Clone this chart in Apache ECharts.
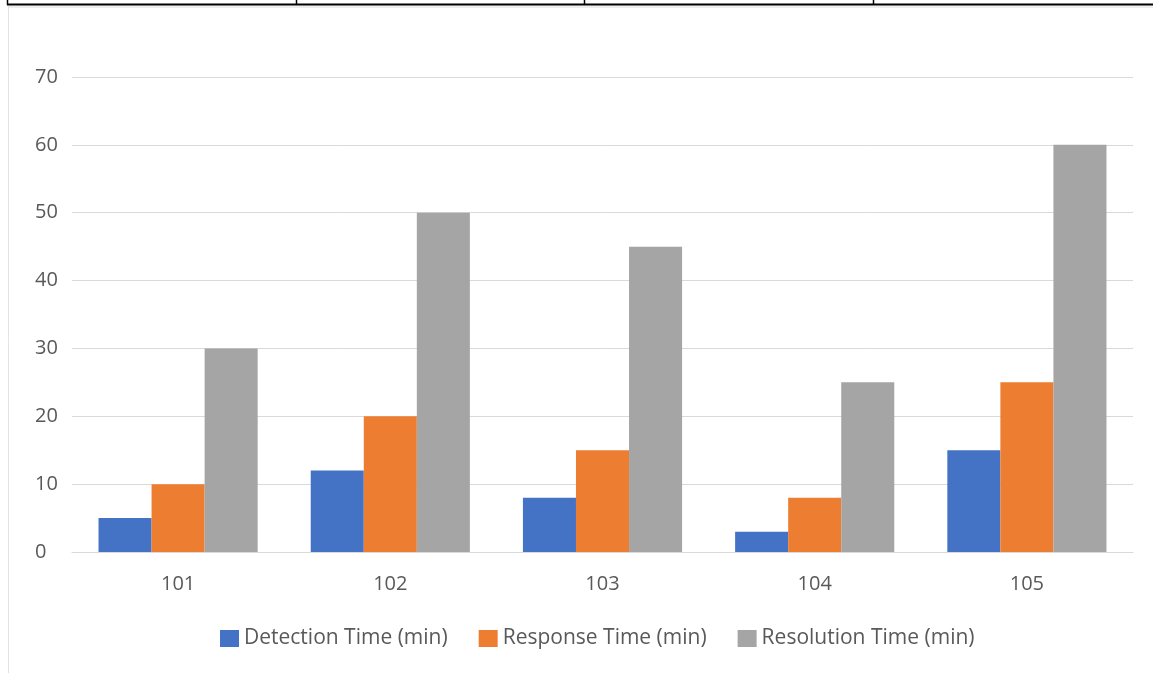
<!DOCTYPE html>
<html>
<head>
<meta charset="utf-8">
<script src="https://cdn.jsdelivr.net/npm/echarts@6/dist/echarts.min.js"></script>
<style>
  html, body { margin: 0; padding: 0; background: #fff; }
  #chart { width: 1153px; height: 673px; }
</style>
</head>
<body>
<div id="chart"></div>
<script>
// incident ids on x axis
var incidents = ['101', '102', '103', '104', '105'];
var detection = [5, 12, 8, 3, 15];
var response = [10, 20, 15, 8, 25];
var resolution = [30, 50, 45, 25, 60];
var seriesNames = ['Detection Time (min)', 'Response Time (min)', 'Resolution Time (min)'];
var colors = ['#4472C4', '#ED7D31', '#A5A5A5'];

var chart = echarts.init(document.getElementById('chart'));
var txt = '#595959';
var font = '"Open Sans", "Noto Sans", sans-serif';

function bar(name, data) {
  return { name: name, type: 'bar', data: data, barGap: 0, barCategoryGap: '25%' };
}

chart.setOption({
  animation: false,
  color: colors,
  textStyle: { fontFamily: font },
  grid: { left: 72, right: 20, top: 77, bottom: 121, containLabel: false },
  legend: {
    top: 623,
    left: 215,
    itemWidth: 19,
    itemHeight: 17,
    itemGap: 31,
    icon: 'rect',
    textStyle: { color: txt, fontSize: 21, fontFamily: font },
    data: seriesNames
  },
  xAxis: {
    type: 'category',
    data: incidents,
    axisTick: { show: false },
    axisLine: { lineStyle: { color: '#d9d9d9' } },
    axisLabel: { color: txt, fontSize: 20, margin: 22 }
  },
  yAxis: {
    type: 'value',
    min: 0,
    max: 70,
    interval: 10,
    axisLine: { show: false },
    axisTick: { show: false },
    axisLabel: { color: txt, fontSize: 20, margin: 37, align: 'left' },
    splitLine: { lineStyle: { color: '#d9d9d9' } }
  },
  series: [
    bar(seriesNames[0], detection),
    bar(seriesNames[1], response),
    bar(seriesNames[2], resolution)
  ],
  graphic: [
    // table border strip at the top
    { type: 'line', shape: { x1: 7, y1: 4.5, x2: 1153, y2: 4.5 }, style: { stroke: '#000', lineWidth: 2 } },
    { type: 'line', shape: { x1: 7.5, y1: 0, x2: 7.5, y2: 5 }, style: { stroke: '#000', lineWidth: 1.5 } },
    { type: 'line', shape: { x1: 296.5, y1: 0, x2: 296.5, y2: 5 }, style: { stroke: '#000', lineWidth: 1.5 } },
    { type: 'line', shape: { x1: 584.5, y1: 0, x2: 584.5, y2: 5 }, style: { stroke: '#000', lineWidth: 1.5 } },
    { type: 'line', shape: { x1: 873.5, y1: 0, x2: 873.5, y2: 5 }, style: { stroke: '#000', lineWidth: 1.5 } },
    { type: 'line', shape: { x1: 8.5, y1: 6, x2: 8.5, y2: 673 }, style: { stroke: '#e3e3e3', lineWidth: 1 } },
    { type: 'line', shape: { x1: 9, y1: 7, x2: 1153, y2: 7 }, style: { stroke: '#eeeeee', lineWidth: 2 } }
  ]
});
</script>
</body>
</html>
